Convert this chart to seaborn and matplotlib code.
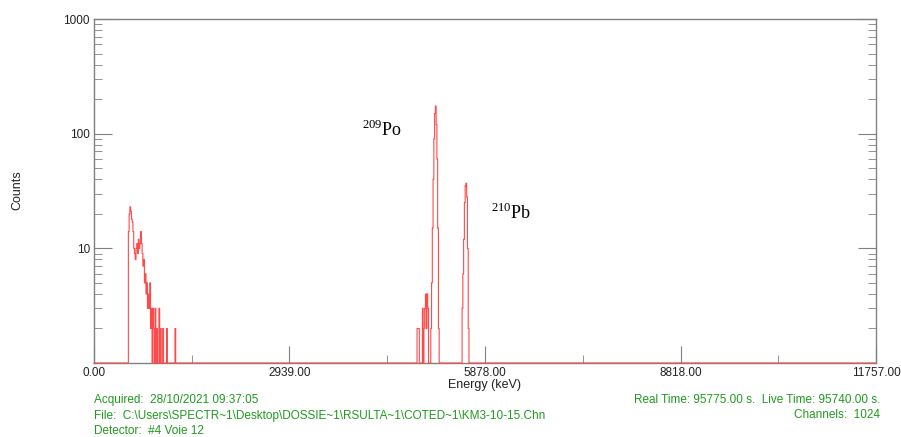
import numpy as np
import pandas as pd
import matplotlib
matplotlib.use("Agg")
import matplotlib.pyplot as plt
from matplotlib.ticker import FixedLocator, NullFormatter
import seaborn as sns

# spectrum settings
n_channels = 1024
e_max = 11757.0

# non-empty channels (all other channels are zero)
low_channels = list(range(45, 108))
low_counts = [14, 20, 23, 21, 18, 17, 14, 10, 9, 8, 10, 11, 9, 12, 10, 11, 14, 11, 9, 7,
              8, 5, 6, 4, 5, 3, 4, 3, 5, 2, 3, 1, 3, 2, 0, 3, 1, 2, 0, 1,
              3, 0, 2, 1, 0, 2, 0, 0, 1, 0, 2, 0, 0, 0, 0, 0, 0, 0, 0, 0,
              0, 2, 0]
po_channels = list(range(422, 453))
po_counts = [0, 2, 2, 2, 0, 1, 0, 0, 3, 0, 2, 3, 4, 2, 4, 3, 1, 0, 0, 2,
             5, 15, 40, 90, 150, 174, 120, 60, 15, 2, 0]
pb_channels = list(range(481, 492))
pb_counts = [1, 3, 6, 12, 25, 35, 37, 28, 10, 2, 0]

x_ticks = [0, 2939, 5878, 8818, 11757]
x_tick_labels = ["0.00", "2939.00", "5878.00", "8818.00", "11757.00"]
x_minor = [1469.5, 4408.5, 7348, 10287.5]
y_ticks = [10, 100, 1000]
y_tick_labels = ["10", "100", "1000"]

peak_labels = [r"$^{209}$Po", r"$^{210}$Pb"]
peak_pos = [(4030, 107), (5975, 20.5)]

info_left = ["Acquired:  28/10/2021 09:37:05",
             "File:  C:\\Users\\SPECTR~1\\Desktop\\DOSSIE~1\\RSULTA~1\\COTED~1\\KM3-10-15.Chn",
             "Detector:  #4 Voie 12"]
info_right = ["Real Time: 95775.00 s.  Live Time: 95740.00 s.",
              "Channels:  1024"]

# build full spectrum
counts = np.zeros(n_channels)
for ch, ct in [(low_channels, low_counts), (po_channels, po_counts), (pb_channels, pb_counts)]:
    counts[ch] = ct
df = pd.DataFrame({
    "energy": np.arange(n_channels) * e_max / n_channels,
    "counts": np.maximum(counts, 1),   # zero counts sit on the axis floor
})

plt.rcParams["font.family"] = ["Liberation Sans", "DejaVu Sans"]
plt.rcParams["mathtext.fontset"] = "custom"
plt.rcParams["mathtext.rm"] = "Liberation Serif"

fig = plt.figure(figsize=(9.01, 4.37), dpi=100)
ax = fig.add_axes([94 / 901, 74 / 437, 782 / 901, 344 / 437])

sns.lineplot(data=df, x="energy", y="counts", ax=ax, color="#ff4a4a", linewidth=0.8,
             drawstyle="steps-post", estimator=None, zorder=3, clip_on=False)

ax.set_yscale("log")
ax.set_xlim(0, e_max)
ax.set_ylim(1, 1000)
ax.set_xlabel("")
ax.set_ylabel("")

gray = "#808080"
for s in ax.spines.values():
    s.set_color(gray)
    s.set_linewidth(1)

ax.xaxis.set_major_locator(FixedLocator(x_ticks))
ax.set_xticklabels(x_tick_labels)
ax.xaxis.set_minor_locator(FixedLocator(x_minor))
ax.yaxis.set_major_locator(FixedLocator(y_ticks))
ax.set_yticklabels(y_tick_labels)
ax.yaxis.set_minor_locator(FixedLocator([m * 10 ** k for k in range(3) for m in range(2, 10)]))
ax.yaxis.set_minor_formatter(NullFormatter())

ax.tick_params(axis="both", which="both", direction="in", color=gray, labelsize=8.5,
               labelcolor="#222222")
ax.tick_params(axis="x", which="major", length=12, pad=3)
ax.tick_params(axis="x", which="minor", length=6)
ax.tick_params(axis="y", which="major", length=13, pad=3, right=True)
ax.tick_params(axis="y", which="minor", length=6, right=True)

for lab, (xe, yc) in zip(peak_labels, peak_pos):
    ax.text(xe, yc, lab, fontsize=13, family="Liberation Serif", ha="left", va="center")

fig.text(17 / 901, 1 - 190 / 437, "Counts", rotation=90, fontsize=9, ha="center", va="center",
         color="#222222")
fig.text(485 / 901, 1 - 385 / 437, "Energy (keV)", fontsize=9, ha="center", va="center",
         color="#222222")

green = "#1f9a1f"
for i, t in enumerate(info_left):
    fig.text(94 / 901, 1 - (400 + 15.5 * i) / 437, t, fontsize=8.5, color=green, va="center")
for i, t in enumerate(info_right):
    fig.text(880 / 901, 1 - (400 + 15.5 * i) / 437, t, fontsize=8.5, color=green, va="center",
             ha="right")

fig.savefig("out.png", dpi=100)
